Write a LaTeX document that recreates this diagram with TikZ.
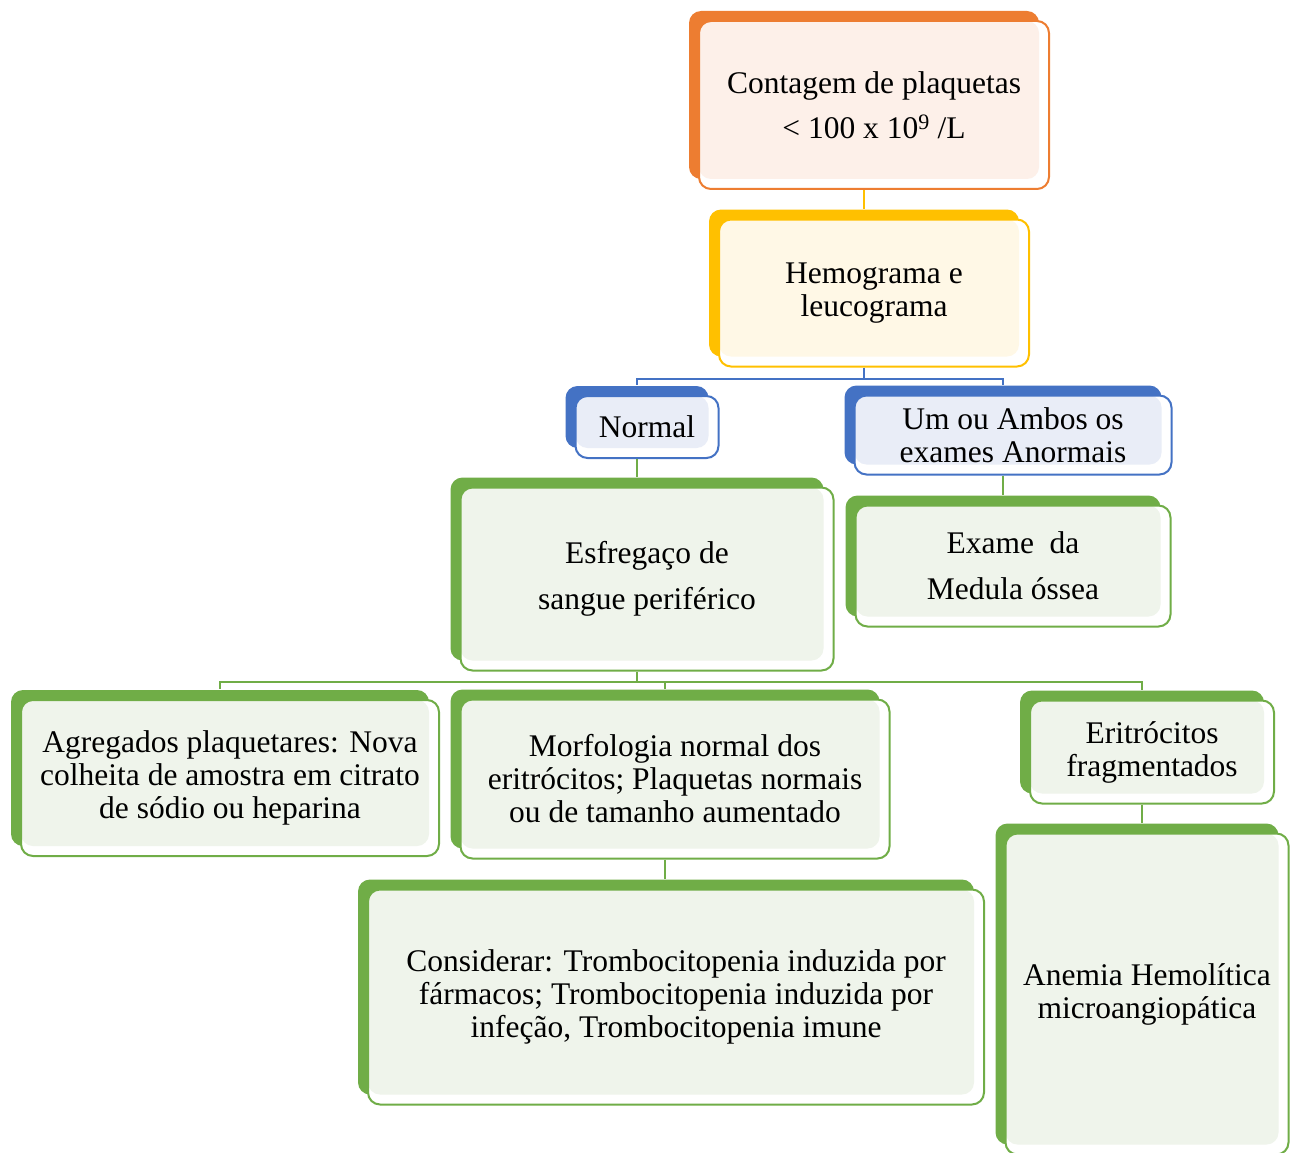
\documentclass[tikz,border=0pt]{standalone}
\usepackage{fontspec}
\setmainfont{Liberation Serif}
\usepackage{tikz}
\usetikzlibrary{shadows,positioning}
\definecolor{cOrange}{RGB}{237,125,49}
\definecolor{lOrange}{RGB}{253,240,233}
\definecolor{cYellow}{RGB}{255,192,0}
\definecolor{lYellow}{RGB}{255,248,230}
\definecolor{cBlue}{RGB}{68,114,196}
\definecolor{lBlue}{RGB}{233,237,247}
\definecolor{cGreen}{RGB}{112,173,71}
\definecolor{lGreen}{RGB}{239,244,235}

\tikzset{
  box/.style 2 args={draw=#1, line width=2pt, fill=white, rounded corners=12pt,
    inner sep=0pt, align=center, font=\fontsize{31.5}{33}\selectfont,
    general shadow={fill=#1, draw=none, shadow xshift=-10pt, shadow yshift=10pt},
    path picture={\fill[#2, rounded corners=12pt]
      ([yshift=10pt]path picture bounding box.south west) rectangle
      ([xshift=-10pt]path picture bounding box.north east);}},
  link/.style={line width=2pt, draw=#1}
}

\begin{document}
\begin{tikzpicture}[x=1pt, y=-1pt]
    \useasboundingbox (0,0) rectangle (1291,1153);

    \node[box={cOrange}{lOrange}, minimum width=350pt, minimum height=168pt] (count) at (874,105)
        {Contagem de plaquetas\\[12pt] < 100 x 10\textsuperscript{9} /L};
    \node[box={cYellow}{lYellow}, minimum width=310pt, minimum height=147pt] (hemo) at (874,293)
        {Hemograma e\\leucograma};
    \node[box={cBlue}{lBlue}, minimum width=143pt, minimum height=62pt] (normal) at (647,427)
        {Normal};
    \node[box={cBlue}{lBlue}, minimum width=317pt, minimum height=79pt] (anorm) at (1013,435)
        {Um ou Ambos os\\exames Anormais};
    \node[box={cGreen}{lGreen}, minimum width=373pt, minimum height=183pt] (esfreg) at (647,579)
        {Esfregaço de\\[13pt] sangue periférico};
    \node[box={cGreen}{lGreen}, minimum width=315pt, minimum height=121pt] (medula) at (1013,566)
        {Exame~ da\\[13pt] Medula óssea};
    \node[box={cGreen}{lGreen}, minimum width=418pt, minimum height=156pt] (agreg) at (230,778)
        {Agregados plaquetares: Nova\\colheita de amostra em citrato\\de sódio ou heparina};
    \node[box={cGreen}{lGreen}, minimum width=429pt, minimum height=159pt] (morfo) at (675,779)
        {Morfologia normal dos\\eritrócitos; Plaquetas normais\\ou de tamanho aumentado};
    \node[box={cGreen}{lGreen}, minimum width=244pt, minimum height=103pt] (eritro) at (1152,752)
        {Eritrócitos\\fragmentados};
    \node[box={cGreen}{lGreen}, minimum width=616pt, minimum height=215pt] (consid) at (676,997)
        {Considerar: Trombocitopenia induzida por\\fármacos; Trombocitopenia induzida por\\infeção, Trombocitopenia imune};
    \node[box={cGreen}{lGreen}, minimum width=283pt, minimum height=321pt] (anemia) at (1147,994)
        {Anemia Hemolítica\\microangiopática};

    \draw[link=cYellow] ([xshift=-10pt]count.south) -- ([shift={(-10pt,10pt)}]hemo.north);
    \draw[link=cBlue] ([xshift=-10pt]hemo.south) -- ++(0,11) coordinate (hj);
    \draw[link=cBlue] (hj) -| ([shift={(-10pt,10pt)}]normal.north);
    \draw[link=cBlue] (hj) -| ([shift={(-10pt,10pt)}]anorm.north);
    \draw[link=cGreen] ([xshift=-10pt]normal.south) -- ([shift={(-10pt,10pt)}]esfreg.north);
    \draw[link=cGreen] ([xshift=-10pt]anorm.south) -- ([shift={(-10pt,10pt)}]medula.north);
    \draw[link=cGreen] ([xshift=-10pt]esfreg.south) -- ++(0,10) coordinate (ej);
    \draw[link=cGreen] (ej) -| ([shift={(-10pt,10pt)}]agreg.north);
    \draw[link=cGreen] (ej) -| ([shift={(-10pt,10pt)}]morfo.north);
    \draw[link=cGreen] (ej) -| ([shift={(-10pt,10pt)}]eritro.north);
    \draw[link=cGreen] ([xshift=-10pt]morfo.south) coordinate (mj) -- ([yshift=10pt]mj |- consid.north);
    \draw[link=cGreen] ([xshift=-10pt]eritro.south) coordinate (fj) -- ([yshift=10pt]fj |- anemia.north);
  \end{tikzpicture}
\end{document}
